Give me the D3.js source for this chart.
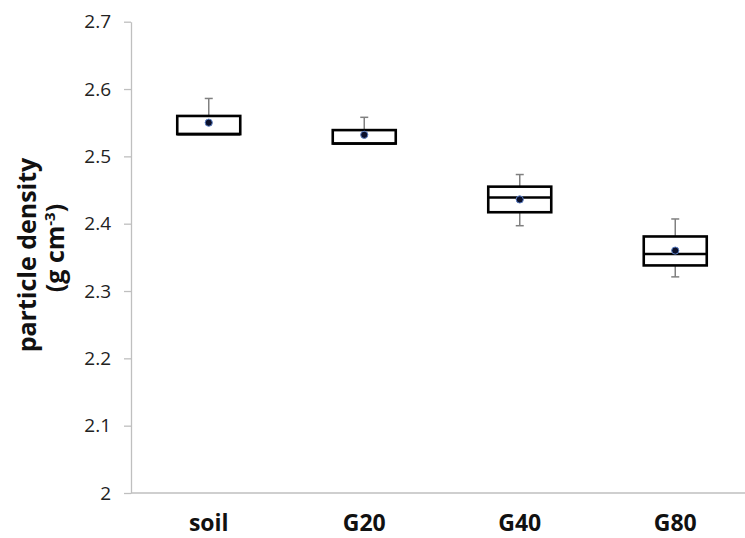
<!DOCTYPE html>
<html>
<head>
<meta charset="utf-8">
<script src="https://cdn.jsdelivr.net/npm/d3@7"></script>
<style>
  body { margin: 0; background: #fff; }
  svg { display: block; }
</style>
</head>
<body>
<svg id="chart" width="745" height="538"></svg>
<script>
const categories = ['soil', 'G20', 'G40', 'G80']
const whiskerLow = [2.533, 2.519, 2.397, 2.321]
const q1 = [2.533, 2.519, 2.417, 2.338]
const median = [2.533, 2.519, 2.439, 2.355]
const q3 = [2.560, 2.539, 2.455, 2.381]
const whiskerHigh = [2.586, 2.558, 2.473, 2.407]
const means = [2.550, 2.532, 2.436, 2.360]
const yTicks = [2, 2.1, 2.2, 2.3, 2.4, 2.5, 2.6, 2.7]

const svg = d3.select('#chart')
const axisColor = '#bfbfbf'

const y = d3.scaleLinear().domain([2, 2.7]).range([493, 21.7])
const x = d3.scaleBand().domain(categories).range([131, 753]).padding(0)

// y axis
const yAxis = svg.append('g')
  .attr('transform', 'translate(131,0)')
  .call(d3.axisLeft(y).tickValues(yTicks).tickSize(7).tickSizeOuter(0)
    .tickFormat(d => d === 2 ? '2' : d.toFixed(1)))
yAxis.selectAll('path, line').attr('stroke', axisColor).attr('stroke-width', 1.3)
yAxis.selectAll('text')
  .attr('x', -20)
  .attr('fill', '#222')
  .style('font-family', '"Open Sans", sans-serif')
  .style('font-size', '19px')

// x axis line
svg.append('line')
  .attr('x1', 131).attr('x2', 745)
  .attr('y1', y(2)).attr('y2', y(2))
  .attr('stroke', axisColor).attr('stroke-width', 1.5)

svg.append('g').selectAll('text')
  .data(categories)
  .enter()
  .append('text')
  .attr('x', d => x(d) + x.bandwidth() / 2)
  .attr('y', 531)
  .attr('text-anchor', 'middle')
  .style('font-family', '"Open Sans", sans-serif')
  .style('font-weight', 'bold')
  .style('font-size', '23px')
  .attr('fill', '#111')
  .text(d => d)

// y title
const title = svg.append('g').style('font-family', '"Open Sans", sans-serif')
  .style('font-weight', 'bold').style('font-size', '25px').attr('fill', '#111')
title.append('text')
  .attr('transform', 'translate(36,255) rotate(-90)')
  .attr('text-anchor', 'middle')
  .text('particle density')
const t2 = title.append('text')
  .attr('transform', 'translate(64,248) rotate(-90)')
  .attr('text-anchor', 'middle')
t2.append('tspan').text('(g cm')
t2.append('tspan').attr('dy', -9).style('font-size', '15px').text('-3')
t2.append('tspan').attr('dy', 9).text(')')

// boxes
const boxW = 63
const capW = 8
const rows = categories.map((c, i) => ({
  c, lo: whiskerLow[i], q1: q1[i], med: median[i], q3: q3[i], hi: whiskerHigh[i], mean: means[i]
}))
const cx = d => x(d.c) + x.bandwidth() / 2

const g = svg.append('g')
const box = g.selectAll('g.box').data(rows).enter().append('g').attr('class', 'box')

box.append('line')
  .attr('x1', cx).attr('x2', cx)
  .attr('y1', d => y(d.hi)).attr('y2', d => y(d.q3))
  .attr('stroke', '#808080').attr('stroke-width', 1.5)
box.append('line')
  .attr('x1', d => cx(d) - capW / 2).attr('x2', d => cx(d) + capW / 2)
  .attr('y1', d => y(d.hi)).attr('y2', d => y(d.hi))
  .attr('stroke', '#808080').attr('stroke-width', 1.5)
box.filter(d => d.lo < d.q1).append('line')
  .attr('x1', cx).attr('x2', cx)
  .attr('y1', d => y(d.q1)).attr('y2', d => y(d.lo))
  .attr('stroke', '#808080').attr('stroke-width', 1.5)
box.filter(d => d.lo < d.q1).append('line')
  .attr('x1', d => cx(d) - capW / 2).attr('x2', d => cx(d) + capW / 2)
  .attr('y1', d => y(d.lo)).attr('y2', d => y(d.lo))
  .attr('stroke', '#808080').attr('stroke-width', 1.5)

box.append('rect')
  .attr('x', d => cx(d) - boxW / 2)
  .attr('y', d => y(d.q3))
  .attr('width', boxW)
  .attr('height', d => y(d.q1) - y(d.q3))
  .attr('fill', '#fff')
  .attr('stroke', '#000')
  .attr('stroke-width', 2.6)
box.append('line')
  .attr('x1', d => cx(d) - boxW / 2).attr('x2', d => cx(d) + boxW / 2)
  .attr('y1', d => y(d.med)).attr('y2', d => y(d.med))
  .attr('stroke', '#000').attr('stroke-width', 2.6)

box.append('circle')
  .attr('cx', cx)
  .attr('cy', d => y(d.mean))
  .attr('r', 3.6)
  .attr('fill', '#0a0f2a')
  .attr('stroke', '#5b7fc4')
  .attr('stroke-width', 1)
</script>
</body>
</html>
